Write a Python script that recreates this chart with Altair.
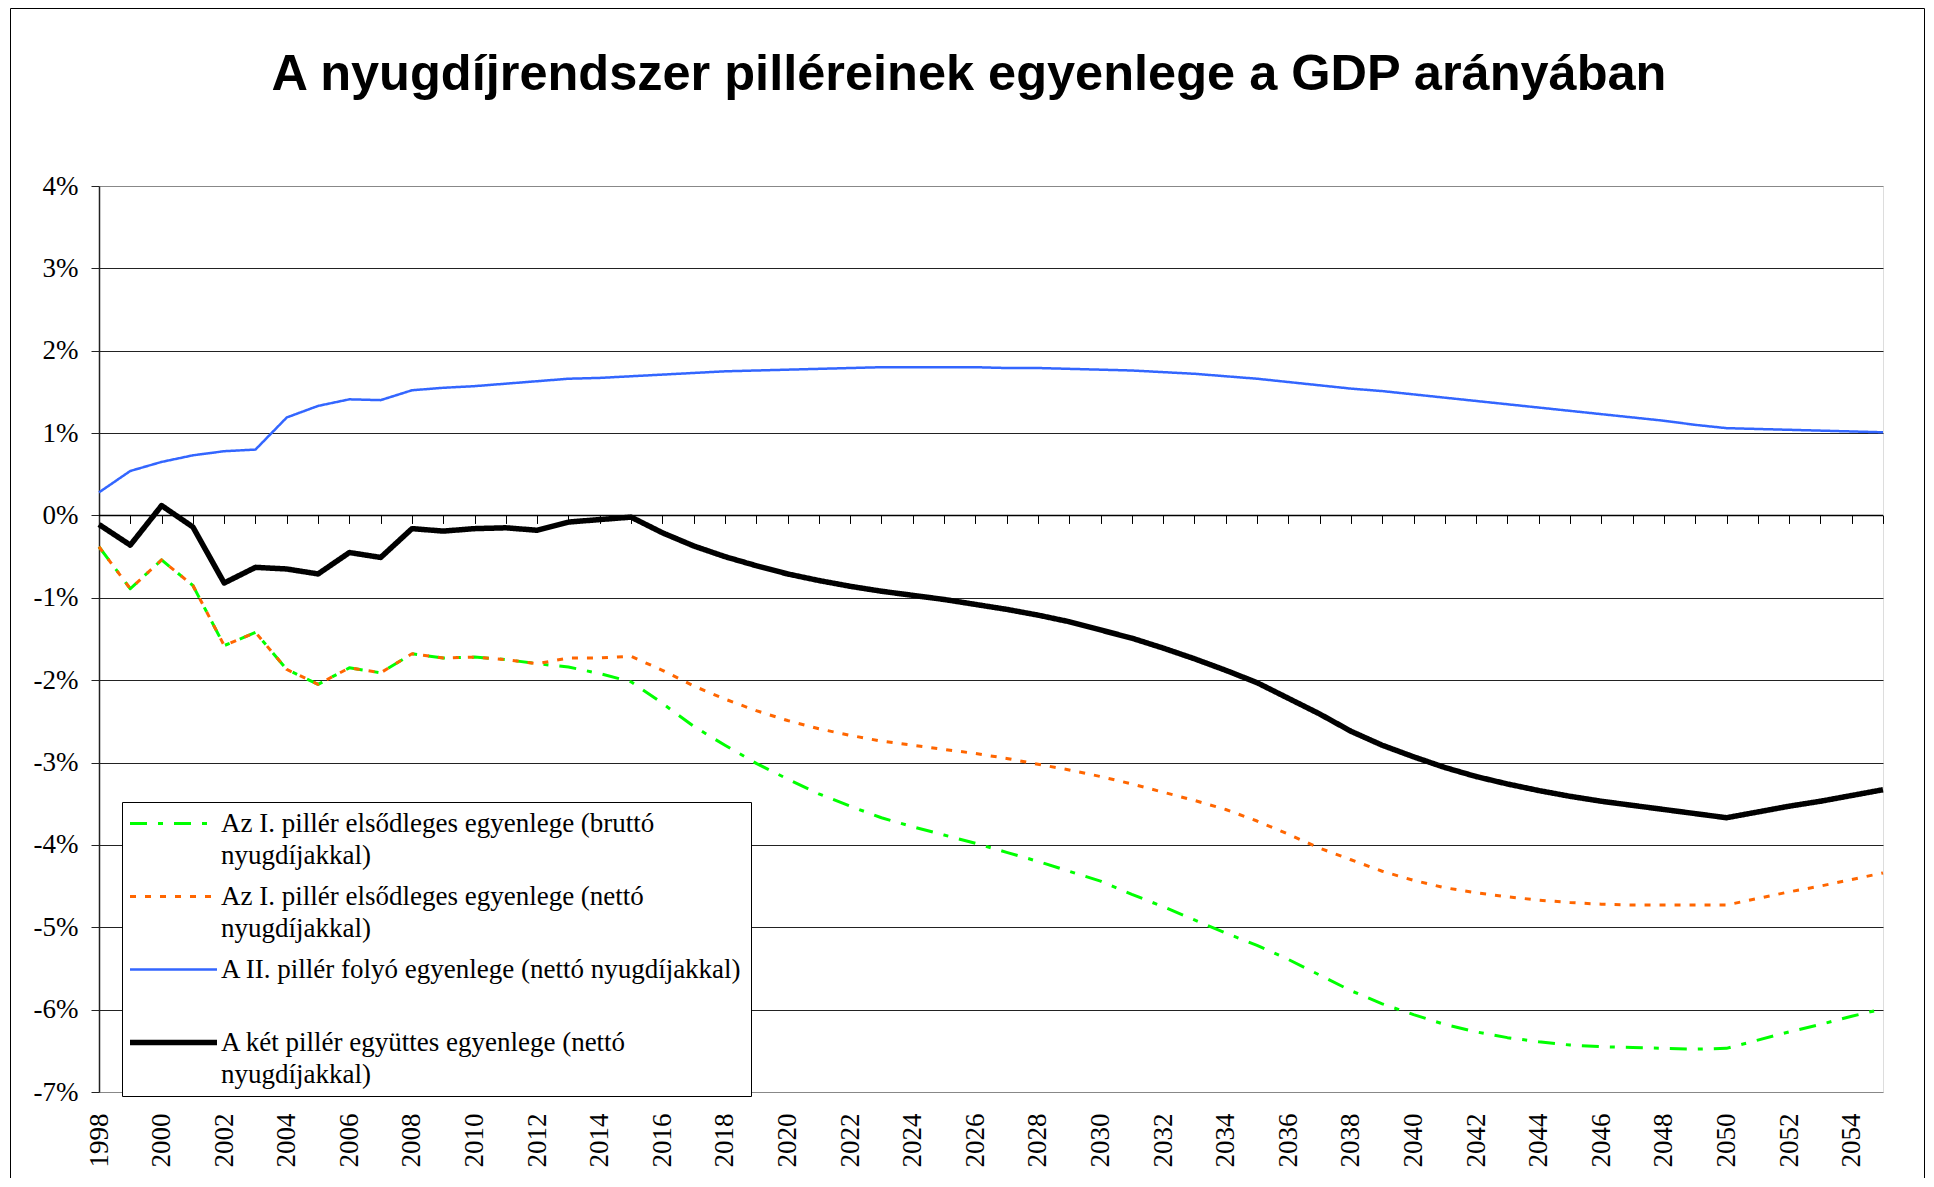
import json
import altair as alt
import pandas as pd

# ---------------- data ----------------
years = list(range(1998, 2056))

gross_first = [
    -0.38, -0.89, -0.54, -0.85, -1.58, -1.42, -1.87, -2.05, -1.85, -1.91,
    -1.68, -1.73, -1.72, -1.75, -1.80, -1.84, -1.92, -2.02, -2.28, -2.56,
    -2.79, -3.01, -3.20, -3.38, -3.53, -3.67, -3.78, -3.88, -3.98, -4.09,
    -4.20, -4.32, -4.44, -4.60, -4.75, -4.91, -5.07, -5.22, -5.39, -5.58,
    -5.77, -5.93, -6.06, -6.18, -6.27, -6.34, -6.39, -6.43, -6.45, -6.46,
    -6.47, -6.48, -6.47, -6.37, -6.27, -6.18, -6.08, -5.99,
]
net_first = [
    -0.38, -0.89, -0.54, -0.85, -1.58, -1.42, -1.87, -2.05, -1.85, -1.91,
    -1.68, -1.73, -1.72, -1.75, -1.80, -1.73, -1.73, -1.71, -1.88, -2.07,
    -2.23, -2.37, -2.49, -2.59, -2.67, -2.74, -2.79, -2.84, -2.89, -2.95,
    -3.02, -3.09, -3.17, -3.26, -3.36, -3.46, -3.57, -3.71, -3.87, -4.04,
    -4.18, -4.32, -4.43, -4.52, -4.58, -4.63, -4.67, -4.70, -4.72, -4.73,
    -4.73, -4.73, -4.73, -4.65, -4.57, -4.50, -4.42, -4.34,
]
second_pillar = [
    0.28, 0.54, 0.65, 0.73, 0.78, 0.80, 1.19, 1.33, 1.41, 1.40,
    1.52, 1.55, 1.57, 1.60, 1.63, 1.66, 1.67, 1.69, 1.71, 1.73,
    1.75, 1.76, 1.77, 1.78, 1.79, 1.80, 1.80, 1.80, 1.80, 1.79,
    1.79, 1.78, 1.77, 1.76, 1.74, 1.72, 1.69, 1.66, 1.62, 1.58,
    1.54, 1.51, 1.47, 1.43, 1.39, 1.35, 1.31, 1.27, 1.23, 1.19,
    1.15, 1.10, 1.06, 1.05, 1.04, 1.03, 1.02, 1.01,
]
combined = [
    -0.11, -0.36, 0.12, -0.14, -0.82, -0.63, -0.65, -0.71, -0.45, -0.51,
    -0.16, -0.19, -0.16, -0.15, -0.18, -0.08, -0.05, -0.02, -0.21, -0.37,
    -0.50, -0.61, -0.71, -0.79, -0.86, -0.92, -0.97, -1.02, -1.08, -1.14,
    -1.21, -1.29, -1.39, -1.49, -1.61, -1.74, -1.88, -2.03, -2.22, -2.41,
    -2.62, -2.79, -2.93, -3.06, -3.17, -3.26, -3.34, -3.41, -3.47, -3.52,
    -3.57, -3.62, -3.67, -3.60, -3.53, -3.47, -3.40, -3.33,
]

series_names = [
    "Az I. pillér elsődleges egyenlege (bruttó nyugdíjakkal)",
    "Az I. pillér elsődleges egyenlege (nettó nyugdíjakkal)",
    "A II. pillér folyó egyenlege (nettó nyugdíjakkal)",
    "A két pillér együttes egyenlege (nettó nyugdíjakkal)",
]
legend_lines = [
    ["Az I. pillér elsődleges egyenlege (bruttó", "nyugdíjakkal)"],
    ["Az I. pillér elsődleges egyenlege (nettó", "nyugdíjakkal)"],
    ["A II. pillér folyó egyenlege (nettó nyugdíjakkal)", ""],
    ["A két pillér együttes egyenlege (nettó", "nyugdíjakkal)"],
]
title_text = "A nyugdíjrendszer pilléreinek egyenlege a GDP arányában"
y_ticks = list(range(-7, 5))
x_label_years = list(range(1998, 2055, 2))

# ---------------- styles ----------------
colors = ["#00FF00", "#FF6600", "#3366FF", "#000000"]
dashes = [[17, 11, 5, 11], [6, 9], [1, 0], [1, 0]]
widths = [3, 3, 2.5, 5.5]
SERIF = "Liberation Serif"
SANS = "Liberation Sans"

W, H = 1784, 906
PAD_BOTTOM = 86
Y_MIN, Y_MAX = -7, 4
X_MIN, X_MAX = 1998, 2055
zero_offset = -H * (0 - Y_MIN) / (Y_MAX - Y_MIN)

rows = []
for name, vals, w in zip(series_names, [gross_first, net_first, second_pillar, combined], widths):
    for yr, v in zip(years, vals):
        rows.append({"year": yr, "value": v, "series": name, "w": w})
df = pd.DataFrame(rows)

label_expr = "".join(
    f"datum.label === '{n}' ? {json.dumps(l, ensure_ascii=False)} : "
    for n, l in zip(series_names, legend_lines)
) + "datum.label"
width_expr = "".join(
    f"datum.value === '{n}' ? {w} : " for n, w in zip(series_names, widths)
) + "3"

legend = alt.Legend(
    title=None,
    orient="none",
    legendX=23,
    legendY=616,
    symbolType="stroke",
    symbolSize=7569,
    symbolOffset=30,
    symbolStrokeWidth=alt.ExprRef(expr=width_expr),
    labelFont=SERIF,
    labelFontSize=27,
    labelColor="black",
    labelLimit=1000,
    labelOffset=34,
    labelExpr=label_expr,
    rowPadding=13,
    padding=8,
    strokeColor="black",
    fillColor="white",
)

x_scale = alt.Scale(domain=[X_MIN, X_MAX], nice=False, zero=False)
y_scale = alt.Scale(domain=[Y_MIN, Y_MAX], nice=False, zero=False)

lines = alt.Chart(df).mark_line(strokeJoin="round").encode(
    x=alt.X(
        "year:Q",
        scale=x_scale,
        axis=alt.Axis(
            orient="bottom",
            values=x_label_years, format="d", labelAngle=270, labelFont=SERIF,
            labelFontSize=27, labelColor="black", labelPadding=21, ticks=False,
            domain=False, grid=False, title=None, labelOverlap=False, labelFlush=False,
        ),
    ),
    y=alt.Y(
        "value:Q",
        scale=y_scale,
        axis=alt.Axis(
            orient="left",
            values=y_ticks, labelExpr="datum.value + '%'", labelFont=SERIF,
            labelFontSize=27, labelColor="black", labelPadding=13, tickSize=8,
            tickColor="#222222", domainColor="#222222", domainWidth=1.5,
            grid=True, gridWidth=1,
            gridColor=alt.condition("datum.value == 4 || datum.value == -7",
                                    alt.value("#888888"), alt.value("#222222")),
            title=None, labelFlush=False,
        ),
    ),
    color=alt.Color("series:N", scale=alt.Scale(domain=series_names, range=colors), legend=legend),
    strokeDash=alt.StrokeDash("series:N", scale=alt.Scale(domain=series_names, range=dashes), legend=legend),
    strokeWidth=alt.StrokeWidth("w:Q", scale=None, legend=None),
)

zero_df = pd.DataFrame({"start": [X_MIN], "end": [X_MAX], "zero": [0]})
zero_line = alt.Chart(zero_df).mark_rule(color="black", strokeWidth=1.5).encode(
    x=alt.X(
        "start:Q",
        axis=alt.Axis(
            orient="bottom",
            values=years, offset=zero_offset, labels=False, domain=False, ticks=True,
            tickSize=8, tickColor="black", tickWidth=1, grid=False, title=None,
        ),
    ),
    x2="end:Q",
    y=alt.Y("zero:Q", axis=None),
)

title_df = pd.DataFrame({"t": [title_text]})
title = alt.Chart(title_df).mark_text(
    font=SANS, fontWeight="bold", fontSize=50.5, align="center",
    baseline="alphabetic", color="black",
).encode(x=alt.value(870), y=alt.value(-96), text="t:N")

one = pd.DataFrame({"a": [0]})
frame_left = alt.Chart(one).mark_rule(color="black", strokeWidth=1).encode(
    x=alt.value(-88.5), y=alt.value(-177.5), y2=alt.value(H + PAD_BOTTOM))
frame_top = alt.Chart(one).mark_rule(color="black", strokeWidth=1).encode(
    x=alt.value(-88.5), x2=alt.value(1825.5), y=alt.value(-177.5))
frame_right = alt.Chart(one).mark_rule(color="black", strokeWidth=1).encode(
    x=alt.value(1825.5), y=alt.value(-177.5), y2=alt.value(H + PAD_BOTTOM))

chart = (
    alt.layer(zero_line, lines, title, frame_left, frame_top, frame_right)
    .resolve_axis(x="independent", y="independent")
    .properties(
        width=W, height=H,
        autosize=alt.AutoSizeParams(type="none"),
        padding={"left": 91, "top": 178, "right": 43, "bottom": PAD_BOTTOM},
        background="white",
    )
    .configure_view(stroke="#888888", strokeWidth=2)
    .configure(style={"guide-label": {"lineHeight": 32}})
)

chart.save("out.html", embed_options={"renderer": "svg", "actions": False})
